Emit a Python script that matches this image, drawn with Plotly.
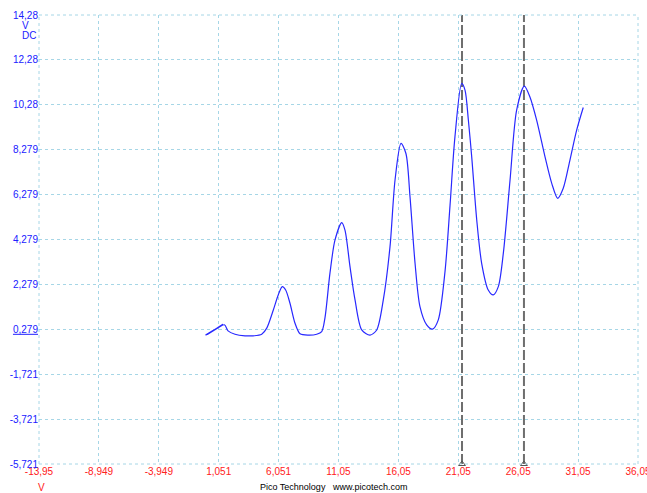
import plotly.graph_objects as go

# Trace values (X in V, Y in V DC)
x_vals = [-0.05, 1.30, 0.10, 1.40, 0.25, 1.52, 1.83, 2.41, 3.25, 3.94, 4.64, 5.06, 5.61, 6.02, 6.36,
          6.64, 7.00, 7.42, 7.84, 8.53, 9.23, 9.65, 9.92, 10.34, 10.76, 11.32, 11.59, 12.01, 12.43,
          12.99, 13.68, 14.24, 14.79, 15.35, 15.77, 16.27, 16.68, 17.02, 17.44, 17.85, 18.41, 18.91,
          19.38, 19.94, 20.36, 20.77, 21.33, 21.61, 21.89, 22.17, 22.59, 23.00, 23.55, 23.97, 24.39,
          24.81, 25.37, 25.92, 26.56, 27.03, 27.59, 28.29, 28.85, 29.35, 29.81, 30.37, 30.93, 31.48]
y_vals = [0.02, 0.45, 0.05, 0.50, 0.10, 0.48, 0.21, 0.06, -0.01, -0.01, 0.06, 0.33, 1.14, 1.81, 2.18,
          2.03, 1.44, 0.55, 0.08, 0.02, 0.06, 0.18, 0.79, 2.79, 4.26, 5.03, 4.70, 3.07, 1.59,
          0.25, 0.02, 0.25, 1.59, 3.96, 6.93, 8.56, 8.11, 6.18, 3.22, 1.29, 0.48, 0.29,
          0.70, 2.85, 5.80, 8.85, 11.23, 10.93, 9.60, 7.96, 5.15, 3.22, 2.03, 1.81, 2.18,
          3.67, 6.93, 10.04, 11.11, 10.63, 9.60, 7.96, 6.78, 6.11, 6.56, 7.82, 9.15, 10.16]

cursor_x = [21.36, 26.53]

x_ticks = [-13.95, -8.949, -3.949, 1.051, 6.051, 11.05, 16.05, 21.05, 26.05, 31.05, 36.05]
x_tick_text = ["-13,95", "-8,949", "-3,949", "1,051", "6,051", "11,05", "16,05", "21,05", "26,05", "31,05", "36,05"]
y_ticks = [-5.721, -3.721, -1.721, 0.279, 2.279, 4.279, 6.279, 8.279, 10.28, 12.28, 14.28]
y_tick_text = ["-5,721", "-3,721", "-1,721", "<u>0,279</u>", "2,279", "4,279", "6,279", "8,279", "10,28", "12,28", "14,28"]

x_min, x_max = -13.95, 36.0505
y_min, y_max = -5.721, 14.28

FONT = "Liberation Sans, Arial, sans-serif"
GRID = "#a6d6e6"

W, H = 647, 493
ML, MR, MT, MB = 39, 9, 15, 29
PW, PH = W - ML - MR, H - MT - MB

fig = go.Figure()

for cx in cursor_x:
    fig.add_trace(go.Scatter(x=[cx, cx], y=[y_min, y_max], mode="lines",
                             line=dict(color="#6e6e6e", width=2, dash="10px,3px"),
                             hoverinfo="skip", showlegend=False))
    fig.add_trace(go.Scatter(x=[cx], y=[y_min], mode="markers",
                             marker=dict(symbol="triangle-up-open", size=6, color="#555555",
                                         line=dict(width=1)),
                             cliponaxis=False, hoverinfo="skip", showlegend=False))

fig.add_trace(go.Scatter(x=x_vals, y=y_vals, mode="lines",
                         line=dict(color="rgb(40,40,255)", width=1.2, shape="spline", smoothing=0.8),
                         showlegend=False))

fig.update_xaxes(range=[x_min, x_max], tickvals=x_ticks, ticktext=x_tick_text,
                 showgrid=True, gridcolor=GRID, griddash="dot", gridwidth=1,
                 zeroline=False, showline=False, ticks="", ticklabeloverflow="allow",
                 automargin=False,
                 tickfont=dict(family=FONT, size=10, color="#ff2020"))
fig.update_yaxes(range=[y_min, y_max], tickvals=y_ticks, ticktext=y_tick_text,
                 showgrid=True, gridcolor=GRID, griddash="dot", gridwidth=1,
                 zeroline=False, showline=False, ticks="", ticklabeloverflow="allow",
                 automargin=False,
                 tickfont=dict(family=FONT, size=10, color="#2020ff"))

annots = [
    dict(text="V", x=41, y=487, color="#ff2020", size=10, anchor="center"),
    dict(text="V", x=25, y=25, color="#2020ff", size=10, anchor="center"),
    dict(text="DC", x=29, y=36, color="#2020ff", size=10, anchor="center"),
    dict(text="Pico Technology", x=258, y=487, color="#000000", size=9, anchor="left"),
    dict(text="www.picotech.com", x=330, y=487, color="#000000", size=9, anchor="left"),
]
for a in annots:
    fig.add_annotation(text=a["text"], xref="paper", yref="paper",
                       x=(a["x"] - ML) / PW, y=(H - MB - a["y"]) / PH,
                       xanchor=a["anchor"], yanchor="middle",
                       showarrow=False, font=dict(family=FONT, size=a["size"], color=a["color"]))

# border gridlines at plot edges
for x0, x1, y0, y1 in [(0, 0, 0, 1), (1, 1, 0, 1), (0, 1, 0, 0), (0, 1, 1, 1)]:
    fig.add_shape(type="line", xref="paper", yref="paper", x0=x0, x1=x1, y0=y0, y1=y1,
                  line=dict(color=GRID, width=1, dash="dot"))

fig.update_layout(width=W, height=H, margin=dict(l=ML, r=MR, t=MT, b=MB),
                  paper_bgcolor="white", plot_bgcolor="white", showlegend=False)

fig.write_html("out.html")
